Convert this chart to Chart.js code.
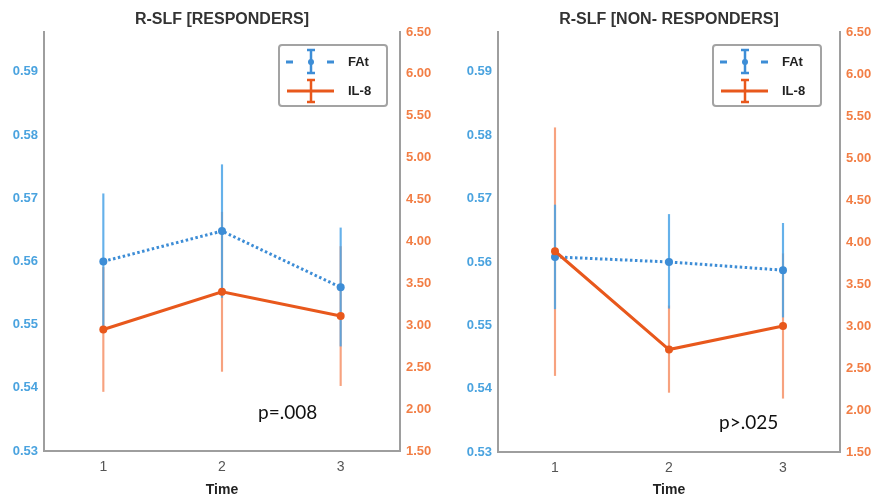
<!DOCTYPE html>
<html>
<head>
<meta charset="utf-8">
<script src="https://cdn.jsdelivr.net/npm/chart.js@4.4.1/dist/chart.umd.min.js"></script>
<style>
html, body { margin: 0; padding: 0; background: #fff; }
#wrap { position: relative; width: 872px; height: 500px; }
.panel { position: absolute; top: 0; width: 436px; height: 500px; }
</style>
</head>
<body>
<div id="wrap">
  <div class="panel" style="left:0"><canvas id="c1"></canvas></div>
  <div class="panel" style="left:436px"><canvas id="c2"></canvas></div>
</div>
<script>
var times = ["1", "2", "3"];
var faTicks = [0.53, 0.54, 0.55, 0.56, 0.57, 0.58, 0.59];
var il8Ticks = [1.5, 2.0, 2.5, 3.0, 3.5, 4.0, 4.5, 5.0, 5.5, 6.0, 6.5];

// responders
var respFAt = [0.5600, 0.5648, 0.5559];
var respFAtLow = [0.5493, 0.5543, 0.5466];
var respFAtHigh = [0.5707, 0.5753, 0.5653];
var respIL8 = [2.95, 3.40, 3.11];
var respIL8Low = [2.21, 2.45, 2.28];
var respIL8High = [3.69, 4.35, 3.94];

// non-responders
var nonFAt = [0.5608, 0.5600, 0.5587];
var nonFAtLow = [0.5526, 0.5527, 0.5513];
var nonFAtHigh = [0.5690, 0.5675, 0.5661];
var nonIL8 = [3.89, 2.72, 3.00];
var nonIL8Low = [2.41, 2.21, 2.14];
var nonIL8High = [5.36, 3.24, 3.86];

var blue = "#3d8dd6";
var orange = "#e8581c";
var blueTick = "#4aa3df";
var orangeTick = "#f27e45";
var axisGrey = "#9e9e9e";

function pairs(lo, hi) {
    return lo.map(function (v, i) { return [v, hi[i]]; });
}

var legendAndNote = {
    id: "legendAndNote",
    afterDraw: function (chart, args, opts) {
        var ctx = chart.ctx, a = chart.chartArea;
        var w = 108, h = 61;
        var x = a.right - opts.boxRight - w, y = 45;
        ctx.save();
        // box
        ctx.fillStyle = "#fff";
        ctx.strokeStyle = "#a3a3a3";
        ctx.lineWidth = 2;
        ctx.beginPath();
        ctx.roundRect(x, y, w, h, 3);
        ctx.fill();
        ctx.stroke();

        // FAt row
        var r1 = y + 17, cx = x + 32;
        ctx.strokeStyle = blue;
        ctx.lineWidth = 3;
        ctx.beginPath();
        ctx.moveTo(x + 7, r1); ctx.lineTo(x + 14, r1);
        ctx.moveTo(x + 48, r1); ctx.lineTo(x + 55, r1);
        ctx.stroke();
        ctx.lineWidth = 2.5;
        ctx.beginPath();
        ctx.moveTo(cx, y + 5); ctx.lineTo(cx, y + 28);
        ctx.moveTo(cx - 4, y + 5); ctx.lineTo(cx + 4, y + 5);
        ctx.moveTo(cx - 4, y + 28); ctx.lineTo(cx + 4, y + 28);
        ctx.stroke();
        ctx.fillStyle = blue;
        ctx.beginPath(); ctx.arc(cx, r1, 3, 0, Math.PI * 2); ctx.fill();

        // IL-8 row
        var r2 = y + 46;
        ctx.strokeStyle = orange;
        ctx.lineWidth = 3;
        ctx.beginPath();
        ctx.moveTo(x + 8, r2); ctx.lineTo(x + 55, r2);
        ctx.stroke();
        ctx.lineWidth = 2.5;
        ctx.beginPath();
        ctx.moveTo(cx, y + 35); ctx.lineTo(cx, y + 57);
        ctx.moveTo(cx - 4, y + 35); ctx.lineTo(cx + 4, y + 35);
        ctx.moveTo(cx - 4, y + 57); ctx.lineTo(cx + 4, y + 57);
        ctx.stroke();

        ctx.fillStyle = "#222";
        ctx.font = "bold 13px 'Liberation Sans', Arial, sans-serif";
        ctx.textBaseline = "middle";
        ctx.fillText("FAt", x + 69, r1);
        ctx.fillText("IL-8", x + 69, r2);

        // p-value note
        ctx.fillStyle = "#111";
        ctx.font = "19px Lato, 'Open Sans', sans-serif";
        ctx.fillText(opts.note, a.left + opts.noteX, opts.noteY);
        ctx.restore();
    }
};

function makePanel(id, title, fat, fatLo, fatHi, il8, il8Lo, il8Hi, dims) {
    var ctx = document.getElementById(id);
    return new Chart(ctx, {
        type: "line",
        data: {
            labels: times,
            datasets: [{
                label: "IL-8",
                data: il8,
                yAxisID: "y1",
                borderColor: orange,
                backgroundColor: orange,
                borderWidth: 3,
                pointRadius: 4,
                pointBorderWidth: 0,
                tension: 0,
                order: 0
            }, {
                label: "FAt",
                data: fat,
                yAxisID: "y",
                borderColor: blue,
                backgroundColor: blue,
                borderWidth: 3,
                borderDash: [2.5, 2.5],
                pointRadius: 4,
                pointBorderWidth: 0,
                tension: 0,
                order: 1
            }, {
                type: "bar",
                label: "FAt CI",
                data: pairs(fatLo, fatHi),
                yAxisID: "y",
                backgroundColor: "rgba(74,163,230,0.85)",
                barThickness: 1.5,
                grouped: false,
                order: 2
            }, {
                type: "bar",
                label: "IL-8 CI",
                data: pairs(il8Lo, il8Hi),
                yAxisID: "y1",
                backgroundColor: "rgba(246,146,104,0.85)",
                barThickness: 1.5,
                grouped: false,
                order: 3
            }]
        },
        options: {
            responsive: false,
            maintainAspectRatio: false,
            animation: false,
            layout: { padding: 0 },
            plugins: {
                legend: { display: false },
                tooltip: { enabled: false },
                title: {
                    display: true,
                    text: title,
                    fullSize: false,
                    color: "#333",
                    font: { family: "'Liberation Sans', Arial, sans-serif", size: 16, weight: "bold" },
                    padding: { top: 10.4, bottom: 2.4 }
                },
                legendAndNote: dims.extra
            },
            scales: {
                x: {
                    type: "category",
                    offset: true,
                    grid: { display: false, drawTicks: false },
                    border: { display: true, color: axisGrey, width: 2 },
                    ticks: {
                        color: "#555",
                        padding: 8,
                        font: { family: "'Liberation Sans', Arial, sans-serif", size: 14 }
                    },
                    title: {
                        display: true,
                        text: "Time",
                        color: "#222",
                        padding: { top: 0, bottom: 1 },
                        font: { family: "'Liberation Sans', Arial, sans-serif", size: 14, weight: "bold" }
                    },
                    afterFit: function (s) { s.height = dims.xH; }
                },
                y: {
                    position: "left",
                    min: 0.53,
                    max: 0.5963,
                    grid: { display: false, drawTicks: false },
                    border: { display: true, color: axisGrey, width: 2 },
                    ticks: {
                        color: blueTick,
                        padding: 6,
                        font: { family: "'Liberation Sans', Arial, sans-serif", size: 13, weight: "bold" },
                        callback: function (v) { return Number(v).toFixed(2); }
                    },
                    afterBuildTicks: function (s) {
                        s.ticks = faTicks.map(function (v) { return { value: v }; });
                    },
                    afterFit: function (s) { s.width = dims.yL; }
                },
                y1: {
                    position: "right",
                    min: 1.5,
                    max: 6.5,
                    grid: { display: false, drawTicks: false },
                    border: { display: true, color: axisGrey, width: 2 },
                    ticks: {
                        color: orangeTick,
                        padding: 6,
                        font: { family: "'Liberation Sans', Arial, sans-serif", size: 13, weight: "bold" },
                        callback: function (v) { return Number(v).toFixed(2); }
                    },
                    afterBuildTicks: function (s) {
                        s.ticks = il8Ticks.map(function (v) { return { value: v }; });
                    },
                    afterFit: function (s) { s.width = dims.yR; }
                }
            }
        },
        plugins: [legendAndNote]
    });
}

document.getElementById("c1").width = 436;
document.getElementById("c1").height = 500;
document.getElementById("c2").width = 436;
document.getElementById("c2").height = 500;

makePanel("c1", "R-SLF [RESPONDERS]", respFAt, respFAtLow, respFAtHigh, respIL8, respIL8Low, respIL8High,
    { xH: 49, yL: 44, yR: 36, extra: { boxRight: 13, note: "p=.008", noteX: 214, noteY: 413 } });
makePanel("c2", "R-SLF [NON- RESPONDERS]", nonFAt, nonFAtLow, nonFAtHigh, nonIL8, nonIL8Low, nonIL8High,
    { xH: 48, yL: 62, yR: 32, extra: { boxRight: 19, note: "p>.025", noteX: 221, noteY: 423 } });
</script>
</body>
</html>
